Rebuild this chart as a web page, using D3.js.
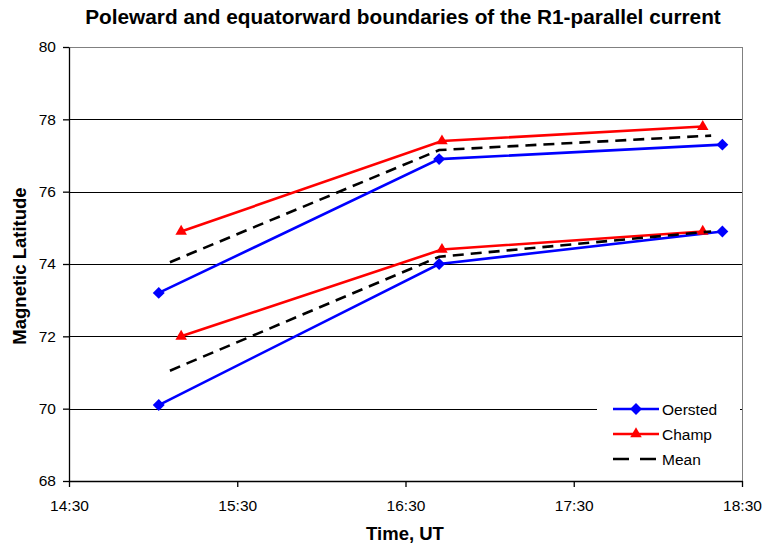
<!DOCTYPE html>
<html>
<head>
<meta charset="utf-8">
<script src="https://cdn.jsdelivr.net/npm/d3@7"></script>
<style>
  body { margin: 0; background: #fff; }
  text { font-family: "Liberation Sans", Arial, sans-serif; }
</style>
</head>
<body>
<div id="chart"></div>
<script>
const width = 762,
    height = 544;

// data
const series = ['Oersted', 'Champ', 'Mean'];
const oerstedTimes = ['15:02', '16:42', '18:23'];
const champTimes = ['15:10', '16:43', '18:16'];
const meanTimes = ['15:06', '16:42', '18:19'];
const oerstedPole = [73.2, 76.9, 77.3];
const oerstedEq = [70.1, 74.0, 74.9];
const champPole = [74.9, 77.4, 77.8];
const champEq = [72.0, 74.4, 74.9];
const meanPole = [74.05, 77.15, 77.55];
const meanEq = [71.05, 74.2, 74.9];
const xTicks = ['14:30', '15:30', '16:30', '17:30', '18:30'];
const yTicks = [68, 70, 72, 74, 76, 78, 80];

const margin = { top: 47, right: 20, bottom: 63, left: 69 };
const iw = width - margin.left - margin.right,
    ih = height - margin.top - margin.bottom;

const parse = d3.timeParse('%H:%M');

const svg = d3.select('#chart')
    .append('svg')
    .attr('width', width)
    .attr('height', height);

const g = svg.append('g')
    .attr('transform', `translate(${margin.left},${margin.top})`);

const x = d3.scaleTime()
    .domain([parse('14:30'), parse('18:30')])
    .range([0, iw]);

const y = d3.scaleLinear()
    .domain([68, 80])
    .range([ih, 0]);

// gridlines
g.selectAll('.grid')
    .data(yTicks.slice(1))
    .enter()
    .append('line')
    .attr('x1', 0)
    .attr('x2', iw)
    .attr('y1', d => Math.round(y(d)) + 0.5)
    .attr('y2', d => Math.round(y(d)) + 0.5)
    .attr('stroke', d => d === 80 ? '#808080' : '#000')
    .attr('stroke-width', 1);

// right border
g.append('line')
    .attr('x1', iw + 0.5).attr('x2', iw + 0.5)
    .attr('y1', 0).attr('y2', ih)
    .attr('stroke', '#808080');

// axes
const xAxis = g.append('g')
    .attr('transform', `translate(0,${ih})`)
    .call(d3.axisBottom(x)
        .tickValues(xTicks.map(parse))
        .tickFormat(d3.timeFormat('%H:%M'))
        .tickSize(6)
        .tickSizeOuter(0));

const yAxis = g.append('g')
    .call(d3.axisLeft(y)
        .tickValues(yTicks)
        .tickSize(6)
        .tickSizeOuter(0));

[xAxis, yAxis].forEach(a => {
    a.selectAll('path, line').attr('stroke', '#000').attr('stroke-width', 1.3);
    a.selectAll('text')
        .attr('fill', '#000')
        .style('font-size', '15.5px')
        .style('font-family', '"Liberation Sans", Arial, sans-serif');
});
xAxis.selectAll('text').attr('y', 30).attr('dy', 0);
yAxis.selectAll('text').attr('x', -13);

const line = d3.line()
    .x(d => x(parse(d.t)))
    .y(d => y(d.v));

function pts(times, vals) {
    return times.map((t, i) => ({ t: t, v: vals[i] }));
}

const lines = [
    { name: 'Oersted', data: pts(oerstedTimes, oerstedPole), color: '#0000ff', marker: 'diamond' },
    { name: 'Oersted', data: pts(oerstedTimes, oerstedEq), color: '#0000ff', marker: 'diamond' },
    { name: 'Champ', data: pts(champTimes, champPole), color: '#ff0000', marker: 'triangle' },
    { name: 'Champ', data: pts(champTimes, champEq), color: '#ff0000', marker: 'triangle' },
    { name: 'Mean', data: pts(meanTimes, meanPole), color: '#000', marker: null },
    { name: 'Mean', data: pts(meanTimes, meanEq), color: '#000', marker: null }
];

const diamond = d3.symbol().type(d3.symbolDiamond2).size(90);
const triangle = d3.symbol().type(d3.symbolTriangle2).size(95);

lines.forEach(s => {
    g.append('path')
        .datum(s.data)
        .attr('d', line)
        .attr('fill', 'none')
        .attr('stroke', s.color)
        .attr('stroke-width', 2.6)
        .attr('stroke-dasharray', s.marker ? null : '11,7');

    if (s.marker) {
        g.selectAll(null)
            .data(s.data)
            .enter()
            .append('path')
            .attr('transform', d => `translate(${x(parse(d.t))},${y(d.v)})`)
            .attr('d', s.marker === 'diamond' ? diamond : triangle)
            .attr('fill', s.color);
    }
});

// legend
const legend = svg.append('g')
    .attr('transform', 'translate(597,395)');

legend.append('rect')
    .attr('width', 143)
    .attr('height', 80)
    .attr('fill', '#fff');

series.forEach((name, i) => {
    const s = lines.find(l => l.name === name);
    const row = legend.append('g')
        .attr('transform', `translate(0,${14 + i * 25})`);
    row.append('line')
        .attr('x1', 16).attr('x2', 62)
        .attr('y1', 0).attr('y2', 0)
        .attr('stroke', s.color)
        .attr('stroke-width', 2.6)
        .attr('stroke-dasharray', s.marker ? null : '16,11');
    if (s.marker) {
        row.append('path')
            .attr('transform', 'translate(39,0)')
            .attr('d', s.marker === 'diamond' ? diamond : triangle)
            .attr('fill', s.color);
    }
    row.append('text')
        .attr('x', 65)
        .attr('y', 6)
        .style('font-size', '15.5px')
        .text(name);
});

// titles
svg.append('text')
    .attr('x', 403)
    .attr('y', 24)
    .attr('text-anchor', 'middle')
    .style('font-size', '20.8px')
    .style('font-weight', 'bold')
    .text('Poleward and equatorward boundaries of the R1-parallel current');

svg.append('text')
    .attr('x', 405)
    .attr('y', 540)
    .attr('text-anchor', 'middle')
    .style('font-size', '18.5px')
    .style('font-weight', 'bold')
    .text('Time, UT');

svg.append('text')
    .attr('transform', `translate(26,266) rotate(-90)`)
    .attr('text-anchor', 'middle')
    .style('font-size', '18.5px')
    .style('font-weight', 'bold')
    .text('Magnetic Latitude');
</script>
</body>
</html>
